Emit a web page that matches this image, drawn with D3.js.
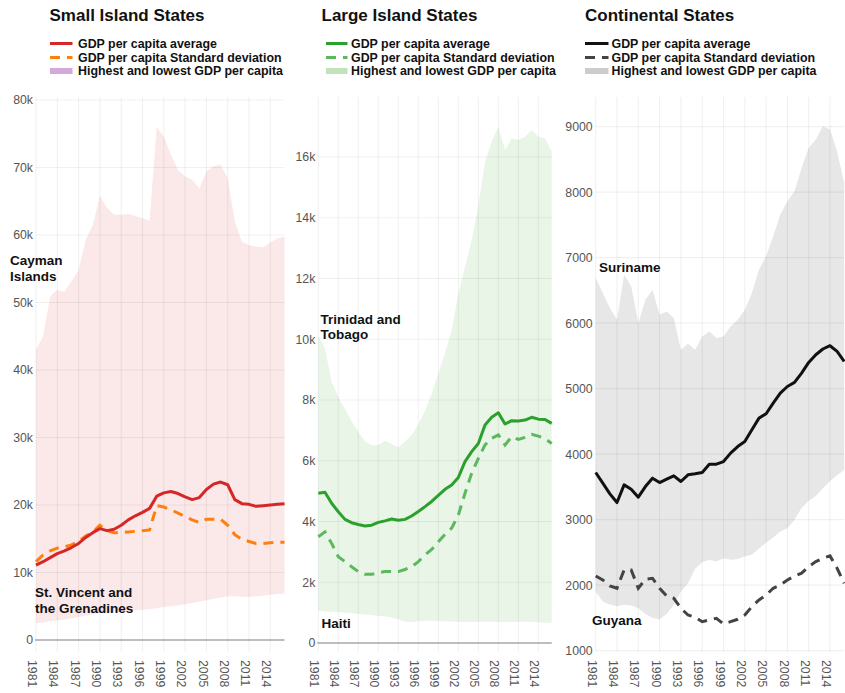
<!DOCTYPE html>
<html>
<head>
<meta charset="utf-8">
<title>GDP per capita</title>
<script src="https://d3js.org/d3.v7.min.js"></script>
<style>
body { margin: 0; background: #fff; }
svg { font-family: "Liberation Sans", Arial, sans-serif; }
.tick text { fill: #555; font-size: 12.3px; }
</style>
</head>
<body>
<div id="chart"></div>
<script>
var years = d3.range(1981, 2017);
var xTicks = [1981, 1984, 1987, 1990, 1993, 1996, 1999, 2002, 2005, 2008, 2011, 2014];

// Small Island States (thousand US$)
var smallMax = [43, 45, 50.9, 51.9, 51.6, 53.1, 54.8, 59.3, 61.5, 65.8, 64, 63, 63, 63.1, 62.8, 62.5, 62.1, 76, 74.6, 71.9, 69.6, 68.7, 68.2, 66.9, 69.4, 70.2, 70.4, 68.4, 62, 59, 58.5, 58.3, 58.2, 58.9, 59.5, 59.8];
var smallMin = [2.5, 2.6, 2.8, 2.9, 3.0, 3.2, 3.4, 3.6, 3.8, 4.0, 4.1, 4.2, 4.2, 4.3, 4.4, 4.5, 4.6, 4.7, 4.9, 5.0, 5.1, 5.3, 5.5, 5.7, 5.9, 6.1, 6.3, 6.5, 6.5, 6.4, 6.4, 6.5, 6.6, 6.7, 6.8, 6.9];
var smallAvg = [11.1, 11.6, 12.2, 12.8, 13.2, 13.7, 14.3, 15.2, 15.9, 16.5, 16.2, 16.4, 17.0, 17.8, 18.4, 18.9, 19.5, 21.3, 21.8, 22.0, 21.7, 21.2, 20.8, 21.1, 22.3, 23.1, 23.4, 23.0, 20.8, 20.2, 20.1, 19.8, 19.9, 20.0, 20.1, 20.2];
var smallStd = [11.6, 12.6, 13.2, 13.6, 13.8, 14.1, 14.6, 15.4, 16.0, 17.0, 16.2, 15.9, 15.9, 16.0, 16.1, 16.2, 16.3, 19.9, 19.7, 19.3, 18.8, 18.3, 17.8, 17.4, 17.9, 17.9, 17.9, 17.0, 15.6, 14.9, 14.6, 14.3, 14.3, 14.4, 14.5, 14.5];

// Large Island States (thousand US$)
var largeMax = [10.1, 9.7, 8.6, 8.1, 7.7, 7.3, 6.95, 6.65, 6.5, 6.52, 6.66, 6.55, 6.44, 6.63, 6.85, 7.2, 7.65, 8.2, 8.88, 9.55, 10.3, 11.5, 12.4, 13.27, 14.4, 15.84, 16.5, 17.0, 16.23, 16.61, 16.56, 16.67, 16.89, 16.67, 16.61, 16.17];
var largeMin = [1.05, 1.04, 1.03, 1.02, 1.0, 0.98, 0.96, 0.94, 0.92, 0.9, 0.88, 0.84, 0.78, 0.7, 0.68, 0.72, 0.73, 0.73, 0.72, 0.72, 0.71, 0.7, 0.69, 0.69, 0.7, 0.7, 0.7, 0.69, 0.68, 0.69, 0.7, 0.7, 0.7, 0.68, 0.67, 0.67];
var largeAvg = [4.93, 4.96, 4.6, 4.32, 4.07, 3.96, 3.9, 3.85, 3.88, 3.97, 4.02, 4.08, 4.04, 4.07, 4.18, 4.33, 4.49, 4.66, 4.86, 5.06, 5.2, 5.45, 5.97, 6.3, 6.57, 7.18, 7.43, 7.58, 7.21, 7.32, 7.31, 7.34, 7.43, 7.37, 7.36, 7.23];
var largeStd = [3.5, 3.66, 3.28, 2.84, 2.68, 2.51, 2.35, 2.26, 2.26, 2.31, 2.35, 2.35, 2.35, 2.42, 2.51, 2.68, 2.9, 3.08, 3.33, 3.58, 3.78, 4.21, 4.93, 5.59, 6.08, 6.52, 6.74, 6.85, 6.52, 6.79, 6.7, 6.77, 6.87, 6.81, 6.73, 6.57];

// Continental States (US$)
var contMax = [6691, 6461, 6232, 6053, 6741, 6563, 6003, 6359, 6512, 6130, 6180, 6079, 5595, 5687, 5595, 5798, 5875, 5774, 5798, 5951, 6053, 6206, 6461, 6818, 7021, 7327, 7658, 7862, 8014, 8371, 8677, 8804, 9008, 8957, 8625, 8142];
var contMin = [1900, 1750, 1700, 1680, 1700, 1690, 1650, 1560, 1500, 1480, 1560, 1700, 1900, 2030, 2250, 2350, 2390, 2360, 2410, 2390, 2400, 2440, 2470, 2560, 2650, 2730, 2820, 2870, 3000, 3180, 3290, 3360, 3480, 3590, 3680, 3760];
var contAvg = [3720, 3558, 3395, 3262, 3532, 3466, 3344, 3506, 3634, 3567, 3619, 3669, 3583, 3685, 3700, 3720, 3848, 3848, 3888, 4016, 4117, 4194, 4373, 4551, 4617, 4780, 4933, 5034, 5096, 5239, 5401, 5518, 5606, 5656, 5569, 5416];
var contStd = [2141, 2080, 1989, 1953, 2233, 2233, 1953, 2091, 2106, 1953, 1836, 1800, 1648, 1545, 1510, 1443, 1469, 1495, 1408, 1443, 1480, 1545, 1673, 1775, 1851, 1953, 2004, 2080, 2141, 2183, 2284, 2360, 2412, 2447, 2259, 2030];

var legendLabels = ["GDP per capita average", "GDP per capita Standard deviation", "Highest and lowest GDP per capita"];

var panels = [
  {
    title: "Small Island States", scale: 1000,
    max: smallMax, min: smallMin, avg: smallAvg, std: smallStd,
    x: [36, 284.5], yDom: [0, 80000], yRng: [640, 100],
    yTicks: d3.range(0, 80001, 10000), fmt: d3.format("~s"), zeroLine: true,
    line: "#d62728", dash: "#ff7f0e", area: "#fbe8e8", swatch: "#d4a8d8",
    titleX: 49.5, swX: 50, swW: 22.5, textX: 78,
    labels: [
      { lines: ["Cayman", "Islands"], x: 10, y: 265 },
      { lines: ["St. Vincent and", "the Grenadines"], x: 35, y: 597 }
    ]
  },
  {
    title: "Large Island States", scale: 1000,
    max: largeMax, min: largeMin, avg: largeAvg, std: largeStd,
    x: [318.3, 551.7], yDom: [0, 16000], yRng: [643, 157],
    yTicks: d3.range(0, 16001, 2000), fmt: d3.format("~s"), zeroLine: true,
    line: "#2ca02c", dash: "#5cb85c", area: "#e9f5e7", swatch: "#c2e2bc",
    titleX: 321.5, swX: 326, swW: 21.5, textX: 351,
    labels: [
      { lines: ["Trinidad and", "Tobago"], x: 320.5, y: 323.5 },
      { lines: ["Haiti"], x: 321.5, y: 628 }
    ]
  },
  {
    title: "Continental States", scale: 1,
    max: contMax, min: contMin, avg: contAvg, std: contStd,
    x: [595.7, 844.2], yDom: [1000, 9000], yRng: [650.7, 126.7],
    yTicks: d3.range(1000, 9001, 1000), fmt: d3.format("d"), zeroLine: false,
    line: "#111", dash: "#444", area: "#e7e7e7", swatch: "#cccccc",
    titleX: 585, swX: 585, swW: 23.5, textX: 611.5,
    labels: [
      { lines: ["Suriname"], x: 599, y: 271.5 },
      { lines: ["Guyana"], x: 592, y: 625 }
    ]
  }
];

var svg = d3.select("#chart").append("svg")
  .attr("width", 845).attr("height", 693);

var plotTop = 97, plotBottom = 652;

panels.forEach(function(p) {
  var x = d3.scaleLinear().domain([1981, 2016]).range(p.x);
  var y = d3.scaleLinear().domain(p.yDom).range(p.yRng);
  var g = svg.append("g");
  var rows = years.map(function(yr, i) {
    return { year: yr, max: p.max[i] * p.scale, min: p.min[i] * p.scale,
             avg: p.avg[i] * p.scale, std: p.std[i] * p.scale };
  });

  // band of highest and lowest
  g.append("path").datum(rows)
    .attr("fill", p.area)
    .attr("d", d3.area().x(function(d){ return x(d.year); })
      .y0(function(d){ return y(d.min); }).y1(function(d){ return y(d.max); }));

  // grid
  g.selectAll(".hg").data(p.yTicks).enter().append("line")
    .attr("x1", p.x[0]).attr("x2", p.x[1])
    .attr("y1", function(d){ return y(d); }).attr("y2", function(d){ return y(d); })
    .attr("stroke", "rgba(0,0,0,0.055)").attr("stroke-width", 1.2);
  g.selectAll(".vg").data(xTicks).enter().append("line")
    .attr("x1", function(d){ return x(d); }).attr("x2", function(d){ return x(d); })
    .attr("y1", plotTop).attr("y2", plotBottom)
    .attr("stroke", "rgba(0,0,0,0.055)").attr("stroke-width", 1.2);

  if (p.zeroLine) {
    g.append("line").attr("x1", p.x[0] - 1).attr("x2", p.x[1])
      .attr("y1", y(0)).attr("y2", y(0))
      .attr("stroke", "#aaa").attr("stroke-width", 1.5);
  }

  // axes
  var ya = g.append("g").attr("transform", "translate(" + (p.x[0] - 2) + ",0)")
    .call(d3.axisLeft(y).tickValues(p.yTicks).tickFormat(p.fmt).tickSize(0).tickPadding(1));
  ya.select(".domain").remove();

  var xa = g.append("g").attr("transform", "translate(0," + plotBottom + ")")
    .call(d3.axisBottom(x).tickValues(xTicks).tickFormat(d3.format("d")).tickSize(0));
  xa.select(".domain").remove();
  xa.selectAll("text")
    .attr("transform", "rotate(90)")
    .attr("x", 8).attr("y", 0).attr("dy", "0.68em")
    .style("text-anchor", "start");

  // lines
  g.append("path").datum(rows)
    .attr("fill", "none").attr("stroke", p.dash).attr("stroke-width", 3)
    .attr("stroke-dasharray", "10,7")
    .attr("d", d3.line().x(function(d){ return x(d.year); }).y(function(d){ return y(d.std); }));
  g.append("path").datum(rows)
    .attr("fill", "none").attr("stroke", p.line).attr("stroke-width", 3)
    .attr("stroke-linejoin", "round")
    .attr("d", d3.line().x(function(d){ return x(d.year); }).y(function(d){ return y(d.avg); }));

  // title
  svg.append("text").attr("x", p.titleX).attr("y", 21)
    .attr("font-size", 17).attr("font-weight", "bold").attr("fill", "#111")
    .text(p.title);

  // legend
  var ly = [43.5, 57.5, 71];
  var lg = svg.append("g");
  lg.append("line").attr("x1", p.swX).attr("x2", p.swX + p.swW)
    .attr("y1", ly[0]).attr("y2", ly[0]).attr("stroke", p.line).attr("stroke-width", 3);
  lg.append("line").attr("x1", p.swX).attr("x2", p.swX + p.swW)
    .attr("y1", ly[1]).attr("y2", ly[1]).attr("stroke", p.dash).attr("stroke-width", 3)
    .attr("stroke-dasharray", "10,7");
  lg.append("rect").attr("x", p.swX).attr("y", ly[2] - 3).attr("width", p.swW).attr("height", 6)
    .attr("fill", p.swatch);
  lg.selectAll("text").data(legendLabels).enter().append("text")
    .attr("x", p.textX).attr("y", function(d, i){ return ly[i] + 4.2; })
    .attr("font-size", 12.4).attr("font-weight", "bold").attr("fill", "#111")
    .text(function(d){ return d; });

  // country labels
  p.labels.forEach(function(l) {
    var t = svg.append("text").attr("x", l.x).attr("y", l.y)
      .attr("font-size", 13.5).attr("font-weight", "bold").attr("fill", "#111");
    l.lines.forEach(function(s, i) {
      t.append("tspan").attr("x", l.x).attr("dy", i === 0 ? 0 : 15.5).text(s);
    });
  });
});
</script>
</body>
</html>
